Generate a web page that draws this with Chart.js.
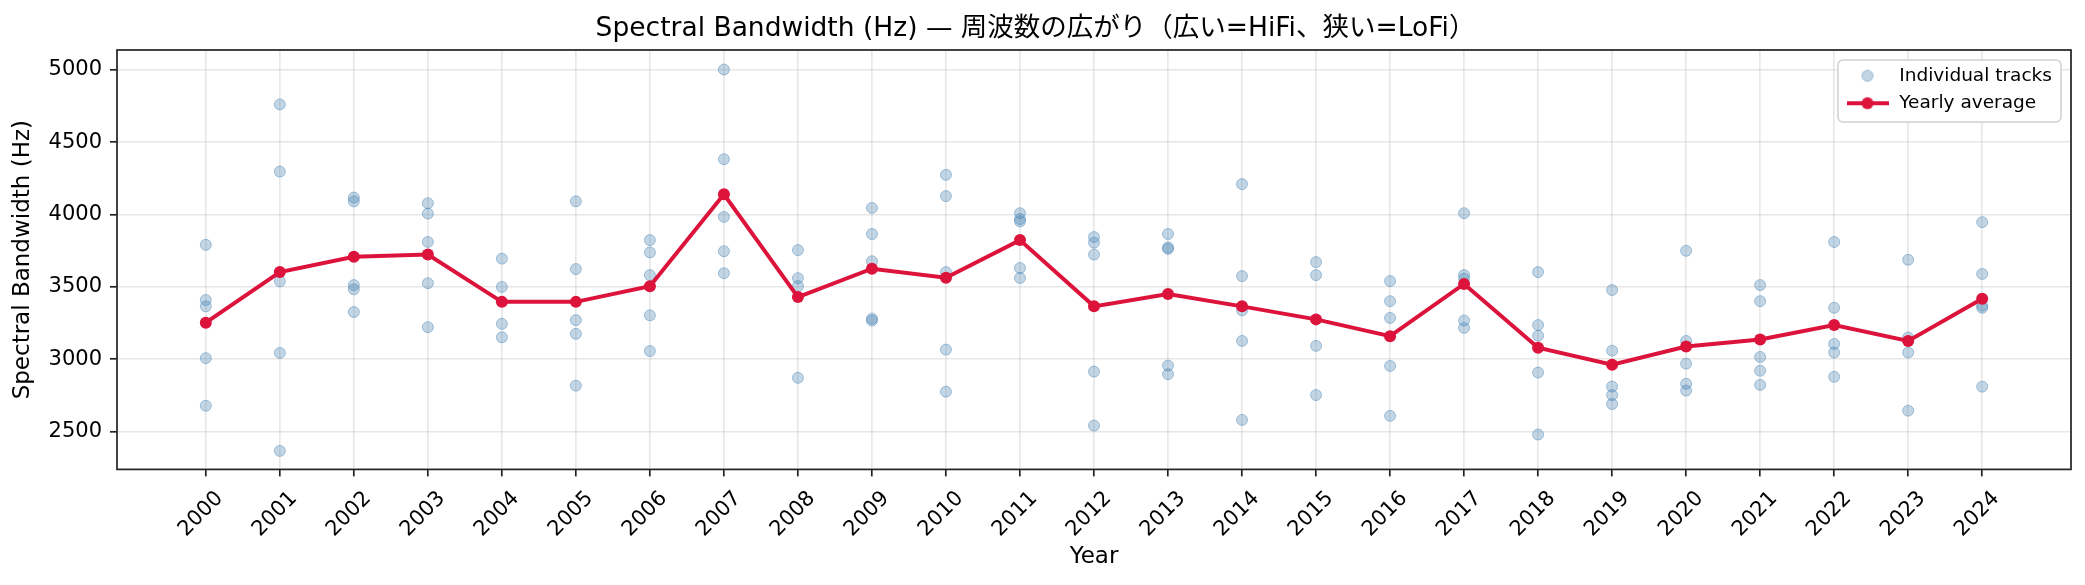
<!DOCTYPE html>
<html>
<head>
<meta charset="utf-8">
<script src="https://cdn.jsdelivr.net/npm/chart.js@4.4.1/dist/chart.umd.min.js"></script>
<style>
  html, body { margin: 0; padding: 0; background: #fff; }
  #wrap { width: 2085px; height: 585px; }
</style>
</head>
<body>
<div id="wrap"><canvas id="chart" width="2085" height="585"></canvas></div>
<script>
const years = [2000, 2001, 2002, 2003, 2004, 2005, 2006, 2007, 2008, 2009, 2010, 2011,
               2012, 2013, 2014, 2015, 2016, 2017, 2018, 2019, 2020, 2021, 2022, 2023, 2024];

// individual tracks, one list per year
const tracks = [
    [3790, 3409, 3365, 3007, 2678],
    [4761, 4297, 3538, 3043, 2366],
    [4117, 4091, 3512, 3483, 3326],
    [4078, 4006, 3810, 3525, 3221],
    [3695, 3499, 3244, 3151],
    [4091, 3623, 3270, 3175, 2817],
    [3823, 3738, 3581, 3303, 3056],
    [5002, 4382, 3983, 3746, 3594],
    [3754, 3560, 3505, 2871],
    [4045, 3865, 3677, 3280, 3267],
    [4274, 4127, 3602, 3066, 2775],
    [4009, 3968, 3952, 3630, 3561],
    [3844, 3805, 3723, 2914, 2541],
    [3865, 3772, 3762, 2956, 2896],
    [4210, 3574, 3337, 3126, 2580],
    [3671, 3581, 3092, 2752],
    [3540, 3401, 3285, 2953, 2608],
    [4009, 3581, 3556, 3267, 3216],
    [3602, 3236, 3162, 2907, 2479],
    [3478, 3059, 2811, 2752, 2690],
    [3749, 3126, 2969, 2830, 2783],
    [3512, 3401, 3015, 2920, 2822],
    [3810, 3355, 3105, 3046, 2878],
    [3687, 3150, 3046, 2644],
    [3947, 3589, 3370, 3355, 2810]
];

const yearlyAvg = [3252, 3602, 3708, 3723, 3396, 3396, 3504, 4140, 3429, 3625, 3563, 3823,
                   3365, 3450, 3365, 3275, 3159, 3520, 3079, 2961, 3087, 3136, 3236, 3126, 3417];

const yTicks = [2500, 3000, 3500, 4000, 4500, 5000];

const FONT = "'DejaVu Sans', 'Noto Sans CJK JP', sans-serif";
const BLUE_FILL = 'rgba(70,130,180,0.33)';
const BLUE_EDGE = 'rgba(70,130,180,0.45)';
const RED = '#dc143c';
const GRID = 'rgba(176,176,176,0.3)';

Chart.defaults.font.family = FONT;
Chart.defaults.color = '#000';

const scatterPts = [];
years.forEach((yr, i) => {
    tracks[i].forEach(v => scatterPts.push({ x: yr, y: v }));
});
const avgPts = years.map((yr, i) => ({ x: yr, y: yearlyAvg[i] }));

// legend icons like matplotlib handles
function makeIcon(kind) {
    const c = document.createElement('canvas');
    c.width = 42; c.height = 16;
    const g = c.getContext('2d');
    if (kind === 'line') {
        g.strokeStyle = RED; g.lineWidth = 4;
        g.beginPath(); g.moveTo(0, 8); g.lineTo(42, 8); g.stroke();
        g.fillStyle = RED;
        g.beginPath(); g.arc(21, 8, 6, 0, Math.PI * 2); g.fill();
    } else {
        g.fillStyle = BLUE_FILL; g.strokeStyle = BLUE_EDGE; g.lineWidth = 1;
        g.beginPath(); g.arc(21, 8, 5.5, 0, Math.PI * 2); g.fill(); g.stroke();
    }
    return c;
}
const icons = [makeIcon('dot'), makeIcon('line')];

const frameAndLegend = {
    id: 'frameAndLegend',
    afterLayout(chart) {
        const lg = chart.legend, a = chart.chartArea;
        lg.left = a.right - 235;
        lg.right = lg.left + lg.width;
        lg.top = a.top + 7.5;
        lg.bottom = a.bottom;
    },
    afterDraw(chart) {
        const ctx = chart.ctx, a = chart.chartArea;
        // legend frame
        const bx = a.right - 233, by = a.top + 10, bw = 223, bh = 62, r = 5;
        ctx.save();
        ctx.beginPath();
        ctx.roundRect(bx, by, bw, bh, r);
        ctx.fillStyle = '#fff';
        ctx.fill();
        ctx.strokeStyle = '#d0d0d0';
        ctx.lineWidth = 1.5;
        ctx.stroke();
        ctx.restore();
        chart.legend.draw();
        // spines
        ctx.save();
        ctx.strokeStyle = '#222';
        ctx.lineWidth = 1.7;
        ctx.strokeRect(a.left, a.top, a.right - a.left, a.bottom - a.top);
        ctx.restore();
    }
};

new Chart(document.getElementById('chart'), {
    data: {
        datasets: [
            {
                type: 'scatter',
                label: 'Individual tracks',
                data: scatterPts,
                backgroundColor: BLUE_FILL,
                borderColor: BLUE_EDGE,
                borderWidth: 1,
                pointRadius: 5.5,
                order: 2
            },
            {
                type: 'line',
                label: 'Yearly average',
                data: avgPts,
                borderColor: RED,
                backgroundColor: RED,
                borderWidth: 4,
                pointRadius: 6,
                pointBackgroundColor: RED,
                pointBorderColor: RED,
                pointBorderWidth: 0,
                tension: 0,
                order: 1
            }
        ]
    },
    options: {
        responsive: false,
        animation: false,
        devicePixelRatio: 1,
        layout: { padding: { left: 0, right: 14, top: 0, bottom: 0 } },
        plugins: {
            tooltip: { enabled: false },
            title: {
                display: true,
                text: 'Spectral Bandwidth (Hz) — 周波数の広がり（広い=HiFi、狭い=LoFi）',
                font: { size: 26.5, weight: 'normal' },
                color: '#000',
                padding: { top: 13.7, bottom: 4.5 }
            },
            legend: {
                position: 'chartArea',
                align: 'start',
                labels: {
                    usePointStyle: true,
                    pointStyleWidth: 45,
                    padding: 9,
                    font: { size: 18.5 },
                    color: '#000',
                    sort: (a, b) => a.datasetIndex - b.datasetIndex,
                    generateLabels(chart) {
                        const items = Chart.defaults.plugins.legend.labels.generateLabels(chart);
                        items.forEach(it => { it.pointStyle = icons[it.datasetIndex]; });
                        return items;
                    }
                }
            }
        },
        scales: {
            x: {
                type: 'linear',
                min: 1998.8,
                max: 2025.2,
                afterBuildTicks(s) { s.ticks = years.map(v => ({ value: v })); },
                ticks: {
                    autoSkip: false,
                    minRotation: 45,
                    maxRotation: 45,
                    font: { size: 21 },
                    color: '#000',
                    padding: 10,
                    labelOffset: 14,
                    callback: v => String(v)
                },
                grid: { color: GRID, lineWidth: 1.6, tickColor: '#222', tickWidth: 1.7, tickLength: 7 },
                border: { display: false },
                title: { display: true, text: 'Year', font: { size: 23 }, color: '#000', padding: { top: 0, bottom: 14 } },
                afterFit(s) { s.height = 115.6; s.paddingLeft = 0; s.paddingRight = 0; }
            },
            y: {
                type: 'linear',
                min: 2238,
                max: 5137,
                afterBuildTicks(s) { s.ticks = yTicks.map(v => ({ value: v })); },
                ticks: { font: { size: 21 }, color: '#000', padding: 8, callback: v => String(v) },
                grid: { color: GRID, lineWidth: 1.6, tickColor: '#222', tickWidth: 1.7, tickLength: 7 },
                border: { display: false },
                title: { display: true, text: 'Spectral Bandwidth (Hz)', font: { size: 23 }, color: '#000', padding: { top: 9.2, bottom: 0 } },
                afterFit(s) { s.width = 117; s.paddingTop = 0; s.paddingBottom = 0; }
            }
        }
    },
    plugins: [frameAndLegend]
});
</script>
</body>
</html>
